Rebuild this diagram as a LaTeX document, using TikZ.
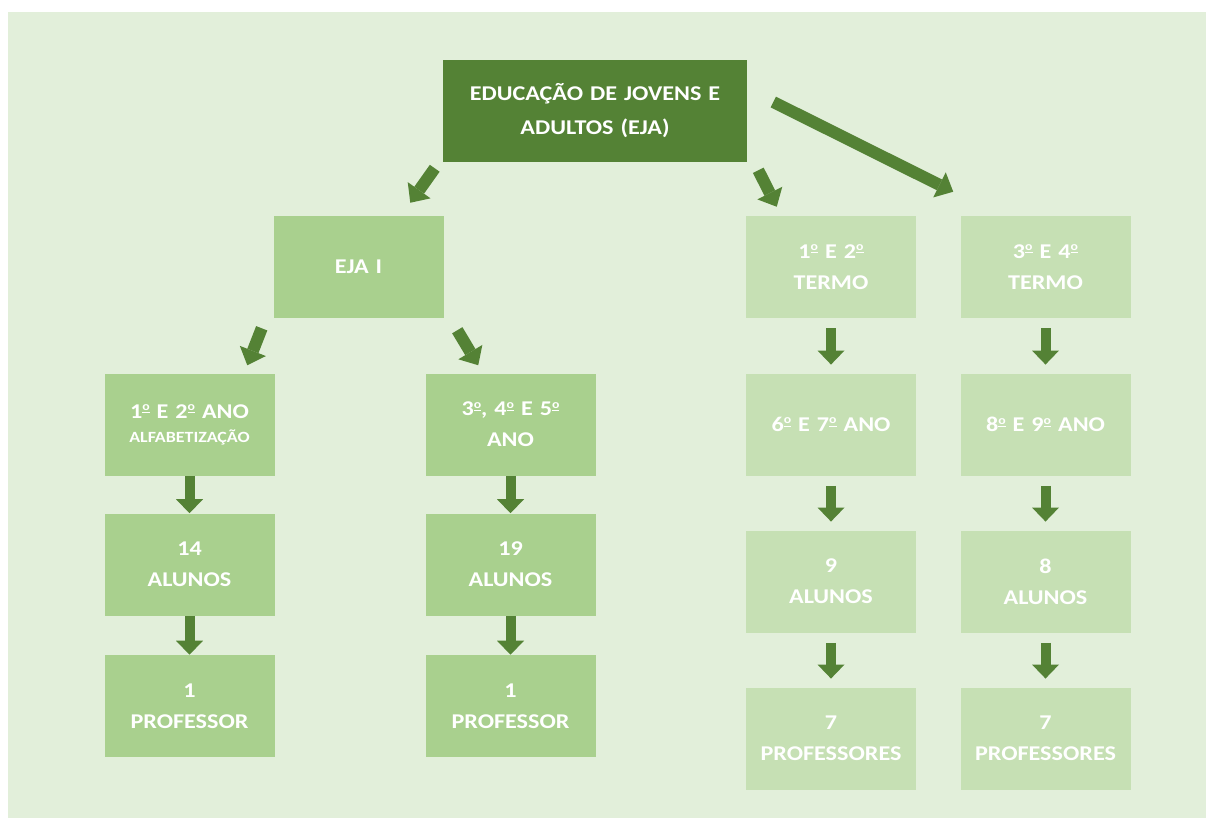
\documentclass[tikz,border=0pt]{standalone}
\usepackage{fontspec}
\setmainfont[FakeStretch=1.15]{Carlito}
\usepackage{xcolor}
\usepackage{tikz}
\usetikzlibrary{arrows.meta, positioning}
\definecolor{mydark}{RGB}{84,130,53}
\definecolor{mymid}{RGB}{169,208,142}
\definecolor{mylight}{RGB}{198,224,180}
\definecolor{mybg}{RGB}{226,239,218}
% ordinal sign with its bar
\newcommand{\ordm}{\raisebox{0.75ex}{\fontsize{9}{9}\selectfont\underline{o}}}
\tikzset{
  topblock/.style={rectangle, fill=mydark, text=white,
    text width=210pt, align=center, minimum width=228pt, minimum height=76.5pt,
    inner sep=0pt, font=\bfseries\fontsize{15.75}{25.5}\selectfont},
  block/.style={rectangle, fill=mymid, text=white,
    text width=120pt, align=center, minimum width=127.5pt, minimum height=76.5pt,
    inner sep=0pt, font=\bfseries\fontsize{15.75}{23.25}\selectfont},
  lightblock/.style={block, fill=mylight},
  arrow/.style={-{Triangle[width=20.25pt, length=10.5pt, line width=0pt]},
    line width=7.5pt, color=mydark},
  gaparrow/.style={arrow, shorten <=7.5pt, shorten >=6.5pt},
  diagarrow/.style={-{Triangle[width=21pt, length=11.5pt, line width=0pt]},
    line width=9pt, color=mydark}
}

\begin{document}
\begin{tikzpicture}[x=0.75pt, y=-0.75pt]
  % Background
  \useasboundingbox (0,0) rectangle (1206,818);
  \fill[mybg] (8,12) rectangle (1206,818);

  % Top box
  \node[topblock] (eja) at (595,111) {EDUCAÇÃO DE JOVENS E\\ADULTOS (EJA)};

  % EJA I branch
  \node[block] (ejaI) at (358.5,267) {EJA I};
  \node[block] (ano12) at (189.5,424.5) {1\ordm{} E 2\ordm{} ANO\\[-5.25pt]{\fontsize{11.7}{18}\selectfont ALFABETIZAÇÃO}};
  \node[block] (alunos14) at (189.5,564.5) {14\\ALUNOS};
  \node[block] (prof1a) at (189.5,706) {1\\PROFESSOR};
  \node[block] (ano345) at (510.5,424.5) {3\ordm, 4\ordm{} E 5\ordm\\ANO};
  \node[block] (alunos19) at (510.5,564.5) {19\\ALUNOS};
  \node[block] (prof1b) at (510.5,706) {1\\PROFESSOR};

  % Termo branches
  \node[lightblock] (termo12) at (831,267) {1\ordm{} E 2\ordm\\TERMO};
  \node[lightblock] (ano67) at (831,424.5) {6\ordm{} E 7\ordm{} ANO};
  \node[lightblock] (alunos9) at (831,581.5) {9\\ALUNOS};
  \node[lightblock] (prof7a) at (831,738.5) {7\\PROFESSORES};
  \node[lightblock] (termo34) at (1045.5,267) {3\ordm{} E 4\ordm\\TERMO};
  \node[lightblock] (ano89) at (1045.5,424.5) {8\ordm{} E 9\ordm{} ANO};
  \node[lightblock] (alunos8) at (1045.5,581.5) {8\\ALUNOS};
  \node[lightblock] (prof7b) at (1045.5,738.5) {7\\PROFESSORES};

  % Diagonal arrows
  \draw[diagarrow] ([shift={(-8,6)}]eja.south west) -- ([shift={(-33.5,-13)}]ejaI.north east);
  \draw[diagarrow] ([shift={(11,8)}]eja.south east) -- ([shift={(31,-9)}]termo12.north west);
  \draw[diagarrow] ([shift={(26,-9)}]eja.east) -- ([shift={(-7,-24)}]termo34.north west);
  \draw[diagarrow] ([shift={(-11.5,10)}]ejaI.south west) -- ([shift={(-27.5,-8)}]ano12.north east);
  \draw[diagarrow] ([shift={(13.5,12)}]ejaI.south east) -- ([shift={(53,-8)}]ano345.north west);

  % Vertical arrows
  \draw[arrow] (ano12.south) -- (alunos14.north);
  \draw[arrow] (alunos14.south) -- (prof1a.north);
  \draw[arrow] (ano345.south) -- (alunos19.north);
  \draw[arrow] (alunos19.south) -- (prof1b.north);
  \draw[gaparrow] (termo12.south) -- (ano67.north);
  \draw[gaparrow] (ano67.south) -- (alunos9.north);
  \draw[gaparrow] (alunos9.south) -- (prof7a.north);
  \draw[gaparrow] (termo34.south) -- (ano89.north);
  \draw[gaparrow] (ano89.south) -- (alunos8.north);
  \draw[gaparrow] (alunos8.south) -- (prof7b.north);
\end{tikzpicture}
\end{document}
